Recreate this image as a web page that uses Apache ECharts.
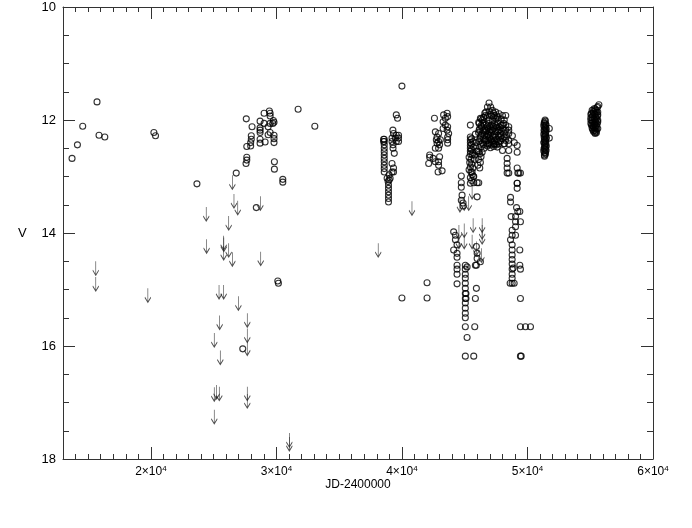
<!DOCTYPE html>
<html>
<head>
<meta charset="utf-8">
<script src="https://cdn.jsdelivr.net/npm/echarts@6/dist/echarts.min.js"></script>
<style>
  html, body { margin: 0; padding: 0; background: #fff; }
  #chart { width: 692px; height: 528px; }
</style>
</head>
<body>
<div id="chart"></div>
<script>
// photographic / early visual points (JD-2400000, V)
const earlyJD = [13720, 14150, 14570, 15710, 15870, 16330, 20240, 20370, 23670, 26800,
  27600, 28060, 28700, 29020, 29440, 29500, 29500, 29760, 29810, 29710,
  29500, 29340, 28700, 28700, 28700, 29020, 29500, 29340, 29810, 29810,
  29810, 28000, 28000, 27950, 27950, 27640, 28700, 28700, 29100, 27640,
  27640, 27580, 29840, 29840, 30510, 30510, 31730, 33060, 28400, 27320,
  30110, 30160];
const earlyV = [12.68, 12.44, 12.11, 11.68, 12.27, 12.30, 12.22, 12.28, 13.13, 12.94,
  11.98, 12.12, 12.02, 11.88, 11.84, 11.88, 11.93, 12.01, 12.04, 12.06,
  12.06, 12.12, 12.14, 12.18, 12.22, 12.06, 12.22, 12.26, 12.27, 12.33,
  12.40, 12.28, 12.34, 12.40, 12.46, 12.47, 12.34, 12.41, 12.39, 12.66,
  12.71, 12.77, 12.74, 12.87, 13.05, 13.10, 11.81, 12.11, 13.55, 16.05,
  14.85, 14.89];

// 1960s-1970s observations
const midJD = [38590, 38590, 38590, 38590, 38590, 38590, 38590, 38590, 38590, 38590,
  38590, 38540, 38540, 38980, 39060, 38900, 38820, 38980, 38930, 38930,
  38930, 38930, 38930, 38930, 39550, 39650, 39280, 39330, 39550, 39730,
  39210, 39470, 39730, 39210, 39550, 39730, 39290, 39290, 39390, 39210,
  39330, 39210, 39330, 40000, 40000, 42000, 42000,
  42590, 43320, 43600, 43460, 43640, 43280, 43460, 43640, 43280, 43600,
  43720, 43640, 43640, 43640, 42660, 42920, 42800, 42740, 42920, 43060,
  42800, 43000, 42920, 42660, 42210, 42210, 42480, 42130, 42660, 42920,
  43000, 42920, 42880, 43200];
const midV = [12.34, 12.38, 12.44, 12.50, 12.56, 12.62, 12.68, 12.74, 12.80, 12.86,
  12.92, 12.34, 12.38, 12.97, 13.03, 13.09, 13.03, 13.06, 13.15, 13.21,
  13.27, 13.33, 13.39, 13.45, 11.91, 11.97, 12.18, 12.24, 12.27, 12.27,
  12.32, 12.32, 12.32, 12.38, 12.38, 12.38, 12.44, 12.50, 12.59, 12.77,
  12.85, 12.92, 12.92, 11.40, 15.15, 14.88, 15.15,
  11.97, 11.91, 11.88, 11.97, 11.94, 12.03, 12.09, 12.12, 12.15, 12.18,
  12.24, 12.30, 12.35, 12.41, 12.21, 12.24, 12.30, 12.35, 12.38, 12.35,
  12.41, 12.44, 12.50, 12.50, 12.62, 12.66, 12.68, 12.77, 12.74, 12.74,
  12.65, 12.80, 12.92, 12.90];

// 1980s-1990s dense monitoring
const peakJD = [46940, 46810, 47070, 46680, 47210, 47470, 47740, 48010, 48270, 46300,
  46520, 46120, 45450, 48010, 48270, 48510, 48270, 48510, 48510, 49180,
  49180, 46120, 46390, 48010, 48510, 46940, 47330, 47740, 48140, 48510,
  46520, 46810, 47070, 47300, 46400, 46950, 47200, 47500,
  46150, 46450, 46700, 46900, 47150, 47400, 47650, 47900,
  46200, 46350, 46600, 46850, 47050, 47300, 47550, 47800, 48050,
  46100, 46400, 46650, 46900, 47100, 47350, 47600, 47850, 48200,
  46250, 46500, 46750, 47000, 47250, 47500, 47750, 48000,
  46150, 46400, 46700, 46950, 47200, 47450, 47700,
  46300, 46550, 46800, 47050, 47300, 47600,
  46600, 46950, 47300, 47600, 48300, 48500, 48150,
  46250, 46650, 47150, 47400, 47650, 47900, 48150,
  46300, 46550, 46800, 47000, 47250, 47500, 47750, 48100,
  46150, 46450, 46750, 46950, 47200, 47450, 47700, 47950,
  46300, 46550, 46850, 47050, 47400, 47650, 47900, 48150,
  46200, 46600, 46850, 47100, 47350, 47600, 47850, 48250,
  46250, 46500, 46850, 47100, 47350, 47550, 48800, 48950,
  45450, 45450, 45450, 45450, 45450, 45450, 45450, 45550, 45550, 45550,
  45600, 45350, 45500, 45400, 45550, 45450, 45350, 45500, 45600, 45450,
  45550, 45450, 45850, 45900, 45950, 45800,
  45650, 45700, 45650, 45750, 45650, 45700,
  46050, 46200, 46300, 46100, 46250, 46050, 46200,
  48380, 48380, 48380, 48380, 49180, 49310, 49180,
  44730, 44730, 44730, 44790, 44730, 44870, 44870, 45990, 45590, 45720,
  45990, 45720, 46120, 44120, 44260, 44260, 44390, 44120, 44390, 44390,
  44390, 45050, 45190, 45930, 45990, 45990, 45850,
  44390, 44390, 44390,
  45050, 45050, 45050, 45050, 45050, 45050, 45050, 45050, 45050, 45050,
  45050, 45050, 45050, 45190, 45100, 45100,
  45720, 45930, 46250, 45930, 45850, 45800,
  48510, 49230, 49440, 49180, 49180, 48650, 48650, 49130, 49230, 49390,
  48700, 49050, 49440, 49050, 49050, 48780, 48780, 49050, 48650, 48780,
  48780, 49390, 48780, 48780, 48780, 49390, 48860,
  48780, 48780, 48780, 48780, 48620, 48940, 49440, 49440, 49440, 49840,
  50240, 49440, 49500];
const peakV = [11.70, 11.77, 11.77, 11.86, 11.83, 11.86, 11.89, 11.92, 11.92, 11.98,
  11.95, 12.04, 12.09, 12.09, 12.09, 12.12, 12.18, 12.18, 12.24, 12.45,
  12.57, 12.57, 12.57, 12.54, 12.54, 12.42, 12.42, 12.42, 12.42, 12.42,
  11.95, 11.93, 11.90, 11.95, 12.00, 12.00, 12.02, 11.98,
  12.06, 12.05, 12.08, 12.06, 12.09, 12.07, 12.05, 12.10,
  12.15, 12.12, 12.16, 12.14, 12.18, 12.15, 12.13, 12.17, 12.15,
  12.22, 12.24, 12.21, 12.25, 12.22, 12.26, 12.21, 12.24, 12.23,
  12.30, 12.33, 12.29, 12.32, 12.30, 12.34, 12.30, 12.33,
  12.38, 12.41, 12.37, 12.40, 12.38, 12.42, 12.39,
  12.47, 12.50, 12.46, 12.49, 12.47, 12.48,
  11.88, 11.84, 11.88, 11.93, 12.30, 12.36, 12.42,
  11.97, 11.92, 11.93, 11.92, 11.96, 11.99, 12.00,
  12.10, 12.09, 12.11, 12.12, 12.11, 12.10, 12.12, 12.06,
  12.18, 12.19, 12.19, 12.20, 12.18, 12.20, 12.18, 12.20,
  12.27, 12.27, 12.27, 12.27, 12.30, 12.27, 12.28, 12.30,
  12.34, 12.35, 12.35, 12.35, 12.37, 12.35, 12.37, 12.36,
  12.43, 12.44, 12.43, 12.44, 12.43, 12.44, 12.28, 12.40,
  12.30, 12.35, 12.40, 12.45, 12.50, 12.55, 12.60, 12.33, 12.43, 12.52,
  12.62, 12.66, 12.70, 12.75, 12.78, 12.83, 12.88, 12.92, 12.97, 13.02,
  13.07, 13.12, 12.25, 12.40, 12.55, 12.62,
  12.38, 12.48, 12.58, 12.70, 12.85, 13.00,
  12.55, 12.60, 12.65, 12.70, 12.75, 12.80, 12.85,
  12.68, 12.77, 12.85, 12.94, 12.85, 12.94, 13.12,
  12.99, 13.11, 13.19, 13.33, 13.42, 13.47, 13.52, 13.36, 12.92, 13.00,
  13.11, 13.11, 13.11, 13.98, 14.04, 14.12, 14.21, 14.30, 14.36, 14.43,
  14.57, 14.57, 14.60, 14.24, 14.36, 14.45, 14.57,
  14.64, 14.73, 14.90,
  14.64, 14.73, 14.80, 14.89, 14.98, 15.07, 15.16, 15.24, 15.33, 15.42,
  15.50, 15.66, 16.18, 15.85, 15.07, 15.16,
  16.18, 14.57, 14.51, 14.98, 15.16, 15.66,
  12.94, 12.94, 12.94, 13.12, 13.21, 13.37, 13.45, 13.55, 13.62, 13.62,
  13.71, 13.71, 13.80, 13.80, 13.89, 13.95, 14.04, 14.04, 14.12, 14.21,
  14.30, 14.30, 14.39, 14.47, 14.55, 14.57, 14.62,
  14.64, 14.73, 14.80, 14.89, 14.89, 14.89, 14.64, 15.16, 15.66, 15.66,
  15.66, 16.18, 16.18];

// recent CCD runs
const ccdJD = [51400, 51350, 51450, 51300, 51400, 51500, 51350, 51450, 51300, 51400,
  51500, 51350, 51450, 51300, 51400, 51500, 51350, 51450, 51300, 51400,
  51350, 51740, 51740,
  51420, 51330, 51480, 51380, 51430, 51320, 51470, 51380, 51440, 51330,
  51480, 51400, 51340, 51460, 51380, 51430, 51320, 51480, 51380, 51440, 51360,
  55690, 55550, 55300, 55150, 55450, 55600, 55250, 55050, 55400, 55550,
  55150, 55300, 55500, 55050, 55400, 55600, 55200, 55350, 55100, 55500,
  55250, 55400, 55600, 55200, 55450, 55350,
  55600, 55400, 55250, 55500, 55100, 55350, 55600, 55200, 55450, 55050,
  55350, 55600, 55150, 55450, 55300, 55050, 55550, 55200, 55400, 55300,
  55150, 55500, 55350, 55250, 55500, 55400];
const ccdV = [12.00, 12.04, 12.07, 12.10, 12.13, 12.16, 12.19, 12.22, 12.25, 12.28,
  12.31, 12.34, 12.37, 12.40, 12.43, 12.46, 12.49, 12.52, 12.55, 12.58,
  12.62, 12.15, 12.32,
  12.02, 12.06, 12.09, 12.12, 12.15, 12.18, 12.20, 12.24, 12.27, 12.30,
  12.33, 12.36, 12.39, 12.41, 12.45, 12.48, 12.51, 12.54, 12.57, 12.60, 12.64,
  11.73, 11.78, 11.80, 11.83, 11.83, 11.86, 11.88, 11.90, 11.90, 11.93,
  11.95, 11.97, 11.98, 12.00, 12.02, 12.03, 12.05, 12.07, 12.09, 12.10,
  12.12, 12.14, 12.15, 12.17, 12.20, 12.22,
  11.76, 11.80, 11.85, 11.86, 11.88, 11.89, 11.91, 11.92, 11.95, 11.96,
  11.99, 12.00, 12.01, 12.04, 12.04, 12.06, 12.07, 12.10, 12.10, 12.13,
  12.14, 12.16, 12.18, 12.20, 12.22, 12.24];

// upper limits (fainter than), drawn as arrows
const limitJD = [15610, 15610, 19760, 26490, 26620, 26920, 24410, 26200, 25800, 25810,
  24440, 25800, 26200, 26490, 28720, 28750, 25430, 25800, 26970, 25480,
  27680, 27680, 25050, 27680, 25530, 25240, 25450, 25050, 27680, 27680,
  25050, 31030, 31030, 38110, 40800, 44620, 44960, 45320, 45590, 44540,
  44960, 45670, 46390, 46390, 46390, 45930, 46330, 44960, 44540, 45590];
const limitV = [14.50, 14.78, 14.98, 12.98, 13.31, 13.43, 13.54, 13.70, 14.05, 14.08,
  14.11, 14.23, 14.18, 14.34, 13.35, 14.33, 14.92, 14.92, 15.12, 15.46,
  15.42, 15.69, 15.77, 15.92, 16.08, 16.69, 16.72, 16.73, 16.72, 16.85,
  17.13, 17.54, 17.61, 14.18, 13.44, 13.38, 13.35, 13.35, 13.15, 13.86,
  13.83, 13.74, 13.74, 13.86, 13.95, 14.15, 14.27, 14.03, 14.03, 14.03];

const majorJD = [20000, 30000, 40000, 50000, 60000];

const font = 'Liberation Sans';
const frame = '#333';

const pairs = (xs, ys) => xs.map((x, i) => [x, ys[i]]);
const circles = [].concat(
  pairs(earlyJD, earlyV), pairs(midJD, midV), pairs(peakJD, peakV), pairs(ccdJD, ccdV)
);
const limits = pairs(limitJD, limitV);

const chart = echarts.init(document.getElementById('chart'));

// frame line of one side (no ticks)
function xLine(pos) {
  return {
    type: 'value', position: pos, min: 13000, max: 60000,
    splitLine: {show: false},
    axisLine: {show: true, lineStyle: {color: frame}},
    axisTick: {show: false},
    axisLabel: {show: false}
  };
}
// tick-only axis pulled into the plot by its tick length, ticks drawn outward -> look inward
function xTicks(pos, len, major) {
  const ax = {
    type: 'value', position: pos, min: 13000, max: 60000, offset: -len,
    splitLine: {show: false},
    axisLine: {show: false, lineStyle: {color: frame}},
    axisTick: {show: true, length: len},
    axisLabel: {show: false}
  };
  if (major) {
    ax.axisTick.customValues = majorJD;
  } else {
    ax.interval = 1000;
  }
  return ax;
}
function yLine(pos) {
  return {
    type: 'value', position: pos, inverse: true, min: 10, max: 18, interval: 2,
    splitLine: {show: false},
    axisLine: {show: true, lineStyle: {color: frame}},
    axisTick: {show: false},
    axisLabel: {show: false}
  };
}
function yTicks(pos, len, step) {
  return {
    type: 'value', position: pos, inverse: true, min: 10, max: 18, interval: step,
    offset: -len,
    splitLine: {show: false},
    axisLine: {show: false, lineStyle: {color: frame}},
    axisTick: {show: true, length: len},
    axisLabel: {show: false}
  };
}

const xBottom = xLine('bottom');
xBottom.axisLabel = {
  show: true, customValues: majorJD, margin: 6, color: '#000',
  formatter: v => '{m|' + (v / 10000) + '×10}{e|4}',
  rich: {
    m: {fontFamily: font, fontSize: 12, color: '#000', lineHeight: 14},
    e: {fontFamily: font, fontSize: 8, color: '#000', lineHeight: 8, verticalAlign: 'top'}
  }
};

const yLeft = yLine('left');
yLeft.axisLabel = {show: true, margin: 7, fontFamily: font, fontSize: 13, color: '#000'};

const option = {
  animation: false,
  // axis titles as plain text
  title: [
    {text: 'JD-2400000', left: 358, top: 479, padding: 0, textAlign: 'center',
     textStyle: {fontFamily: font, fontSize: 12, fontWeight: 'normal', color: '#000'}},
    {text: 'V', left: 18, top: 227, padding: 0,
     textStyle: {fontFamily: font, fontSize: 13, fontWeight: 'normal', color: '#000'}}
  ],
  grid: {left: 63, right: 39, top: 7, bottom: 69},
  xAxis: [xBottom, xTicks('bottom', 5, false), xTicks('bottom', 12, true),
    xLine('top'), xTicks('top', 5, false), xTicks('top', 12, true)],
  yAxis: [yLeft, yTicks('left', 6, 0.5), yTicks('left', 12, 2),
    yLine('right'), yTicks('right', 6, 0.5), yTicks('right', 12, 2)],
  series: [
    {
      name: 'V',
      type: 'scatter',
      silent: true,
      xAxisIndex: 0,
      yAxisIndex: 0,
      symbol: 'circle',
      symbolSize: 6,
      itemStyle: {color: 'rgba(0,0,0,0)', borderColor: '#000', borderWidth: 1.1},
      data: circles
    },
    {
      name: 'upper limit',
      type: 'scatter',
      silent: true,
      xAxisIndex: 0,
      yAxisIndex: 0,
      symbol: 'path://M3,0 L3,14 M0,9 L3,14 L6,9',
      symbolSize: [6, 14],
      symbolOffset: [0, '50%'],
      itemStyle: {color: 'none', borderColor: '#222', borderWidth: 1},
      data: limits
    }
  ]
};
chart.setOption(option);
</script>
</body>
</html>
